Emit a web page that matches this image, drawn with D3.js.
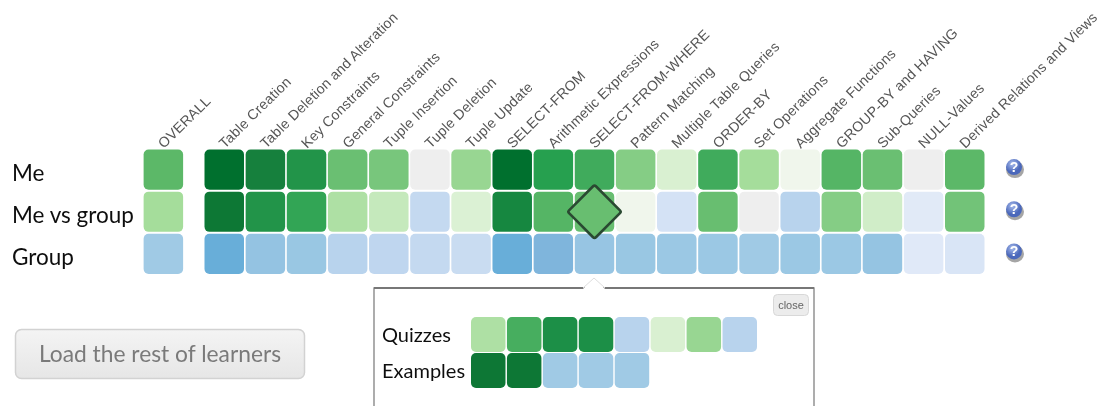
<!DOCTYPE html>
<html>
<head>
<script src="https://d3js.org/d3.v7.min.js" charset="utf-8"></script>
<style>
    body{ margin:0; background:#fff; }
    svg{ display:block; }
</style>
</head>
<body>
<div id="chart"></div>
<script>
    // topic columns, first one sits apart from the rest
    var topics = ["OVERALL","Table Creation","Table Deletion and Alteration","Key Constraints","General Constraints",
        "Tuple Insertion","Tuple Deletion","Tuple Update","SELECT-FROM","Arithmetic Expressions","SELECT-FROM-WHERE",
        "Pattern Matching","Multiple Table Queries","ORDER-BY","Set Operations","Aggregate Functions",
        "GROUP-BY and HAVING","Sub-Queries","NULL-Values","Derived Relations and Views"]
    var rows = ["Me","Me vs group","Group"]

    // positive = green, negative = blue, 0 = grey
    var me = [.6,1,.88,.8,.55,.5,0,.38,1,.75,.68,.45,.15,.68,.33,.05,.62,.55,0,.6]
    var meVsGroup = [.33,.94,.8,.72,.3,.22,-.22,.14,.85,.62,.56,.05,-.15,.56,0,-.27,.45,.18,-.09,.52]
    var group = [-.38,-.7,-.44,-.41,-.27,-.24,-.22,-.2,-.7,-.55,-.42,-.41,-.4,-.4,-.38,-.4,-.4,-.43,-.1,-.13]
    var rowValues = [me,meVsGroup,group]
    var selectedTopic = "SELECT-FROM-WHERE"

    var popupRows = ["Quizzes","Examples"]
    var quizzes = [.3,.66,.82,.82,-.27,.15,.38,-.27]
    var examples = [.95,.95,-.38,-.38,-.38]
    var popupValues = [quizzes,examples]

    var colorStops = [-1,-.7,-.55,-.4,-.25,-.1,0,.05,.15,.33,.5,.6,.75,.88,1]
    var colorRange = ["#4a9cd0","#67aed9","#7fb5dc","#9bc8e4","#bdd5ee","#e0e9f8","#eeeeee","#f0f6ec","#d9f0d1","#a5dd9b","#78c67c","#5cb868","#28a050","#15803d","#05702f"]
    var color = d3.scaleLinear().domain(colorStops).range(colorRange)

    var svg = d3.select("#chart").append("svg").attr("width",1100).attr("height",406)
    var defs = svg.append("defs")
    defs.append("filter").attr("id","soft").append("feGaussianBlur").attr("stdDeviation",0.5)
    var grad = defs.append("radialGradient").attr("id","helpFill").attr("cx","40%").attr("cy","30%")
    grad.append("stop").attr("offset","0%").attr("stop-color","#a9bdec")
    grad.append("stop").attr("offset","100%").attr("stop-color","#4b68bb")
    var btnGrad = defs.append("linearGradient").attr("id","btnFill").attr("x1",0).attr("x2",0).attr("y1",0).attr("y2",1)
    btnGrad.append("stop").attr("offset","0%").attr("stop-color","#f4f4f4")
    btnGrad.append("stop").attr("offset","100%").attr("stop-color","#e6e6e6")

    // OVERALL sits about 1.5 steps left of the first topic
    function colIndex(i){ return i==0 ? -1.48 : i-1 }
    var x = d3.scaleLinear().domain([0,18]).range([204.5,945])
    var y = d3.scaleBand().domain(rows).range([149.5,274]).paddingInner(0.045)
    var cellW = 39.5
    var cellH = y.bandwidth()

    var main = svg.append("g").attr("filter","url(#soft)")

    // topic labels
    main.selectAll(".topic")
        .data(topics)
        .enter()
        .append("text")
        .attr("class","topic")
        .attr("transform",function(d,i){
            return "translate("+(x(colIndex(i))+cellW/2+0.5)+",149) rotate(-44.5)"
        })
        .attr("font-family","Liberation Sans")
        .attr("font-size",14.2)
        .attr("letter-spacing",0.2)
        .attr("fill","#555")
        .text(function(d){return d})

    // row labels
    main.selectAll(".rowLabel")
        .data(rows)
        .enter()
        .append("text")
        .attr("class","rowLabel")
        .attr("x",12)
        .attr("y",function(d){return y(d)+cellH/2+11.5})
        .attr("font-family","Lato")
        .attr("font-size",22.5)
        .attr("fill","#111")
        .text(function(d){return d})

    // grid
    rows.forEach(function(r,k){
        main.append("g").selectAll("rect")
            .data(rowValues[k])
            .enter()
            .append("rect")
            .attr("x",function(d,i){return x(colIndex(i))})
            .attr("y",y(r))
            .attr("width",cellW)
            .attr("height",cellH)
            .attr("rx",5)
            .attr("fill",function(d){return color(d)})
    })

    // selected cell drawn as a diamond
    var selIdx = topics.indexOf(selectedTopic)
    var diaX = x(colIndex(selIdx))+cellW/2
    var diaY = y("Me vs group")+cellH/2
    var diaSide = 38
    main.append("rect")
        .attr("x",-diaSide/2).attr("y",-diaSide/2)
        .attr("width",diaSide).attr("height",diaSide)
        .attr("rx",2)
        .attr("transform","translate("+diaX+","+diaY+") rotate(45)")
        .attr("fill",color(meVsGroup[selIdx]))
        .attr("stroke","#2b4a32")
        .attr("stroke-width",2.6)

    // help icons
    var help = main.append("g").selectAll("g")
        .data(rows)
        .enter()
        .append("g")
        .attr("transform",function(d){return "translate(1014,"+(y(d)+cellH/2-2.5)+")"})
    help.append("ellipse").attr("cx",1).attr("cy",2.5).attr("rx",9).attr("ry",8.5).attr("fill","#a5a5a5")
    help.append("circle").attr("r",8).attr("fill","url(#helpFill)")
    help.append("text").attr("text-anchor","middle").attr("y",5)
        .attr("font-family","Liberation Sans").attr("font-weight","bold").attr("font-size",14)
        .attr("fill","#fff").text("?")

    // load button
    main.append("rect").attr("x",15.5).attr("y",329.5).attr("width",289).attr("height",49).attr("rx",6)
        .attr("fill","url(#btnFill)").attr("stroke","#d2d2d2").attr("stroke-width",1.5)
    main.append("text").attr("x",160).attr("y",362).attr("text-anchor","middle")
        .attr("font-family","Lato").attr("font-size",22.8).attr("fill","#7a7a7a")
        .text("Load the rest of learners")

    // popup
    var popup = main.append("g")
    popup.append("rect").attr("x",374).attr("y",288).attr("width",440).attr("height",140)
        .attr("fill","#fff").attr("stroke","#8a8a8a").attr("stroke-width",1.4)
    popup.append("line").attr("x1",374).attr("x2",814).attr("y1",288).attr("y2",288)
        .attr("stroke","#777").attr("stroke-width",2)
    popup.append("path").attr("d","M583,289 L594,278 L605,289 Z").attr("fill","#fff")
    popup.append("path").attr("d","M583,288 L594,278 L605,288").attr("fill","none").attr("stroke","#ddd")

    popup.append("rect").attr("x",773.5).attr("y",294.5).attr("width",35).attr("height",21).attr("rx",4)
        .attr("fill","#ececec").attr("stroke","#d8d8d8")
    popup.append("text").attr("x",791).attr("y",309).attr("text-anchor","middle")
        .attr("font-family","Liberation Sans").attr("font-size",11).attr("fill","#666").text("close")

    var popX = d3.scaleBand().domain(d3.range(8)).range([471,757]).paddingInner(0.04)
    var popY = d3.scaleBand().domain(popupRows).range([317,388]).paddingInner(0.03)
    popupRows.forEach(function(r,k){
        popup.append("text").attr("x",382).attr("y",popY(r)+popY.bandwidth()/2+7.5)
            .attr("font-family","Lato").attr("font-size",20).attr("fill","#111").text(r)
        popup.append("g").selectAll("rect")
            .data(popupValues[k])
            .enter()
            .append("rect")
            .attr("x",function(d,i){return popX(i)})
            .attr("y",popY(r))
            .attr("width",popX.bandwidth())
            .attr("height",popY.bandwidth())
            .attr("rx",5)
            .attr("fill",function(d){return color(d)})
    })
</script>
</body>
</html>
